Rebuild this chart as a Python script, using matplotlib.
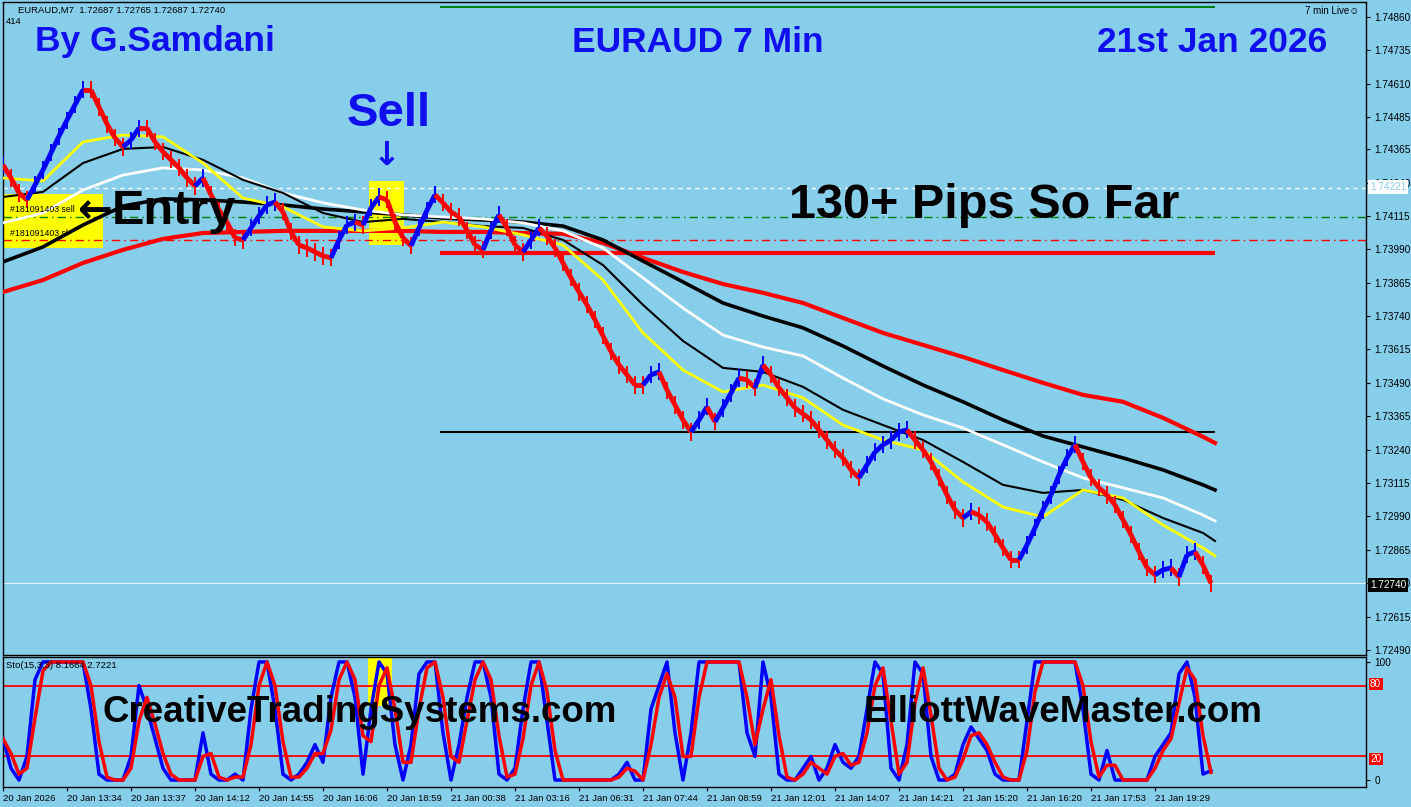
import numpy as np
import pandas as pd
import matplotlib
matplotlib.use("Agg")
import matplotlib.pyplot as plt
from matplotlib.collections import LineCollection
from matplotlib.patches import Rectangle

plt.rcParams['font.family'] = ['Liberation Sans', 'DejaVu Sans']

# precios de cierre, un valor cada 2 barras
cierres = [1.74306, 1.74257, 1.74201, 1.74175, 1.74231, 1.74287, 1.74351, 1.74414, 1.74474, 1.74531,
           1.74587, 1.74587, 1.74523, 1.74459, 1.74407, 1.74373, 1.74399, 1.74444, 1.74444, 1.74392,
           1.74355, 1.74325, 1.74295, 1.74257, 1.74227, 1.74257, 1.74194, 1.74137, 1.74092, 1.74033,
           1.74025, 1.74070, 1.74115, 1.74156, 1.74167, 1.74130, 1.74055, 1.74006, 1.73995, 1.73980,
           1.73965, 1.73958, 1.74025, 1.74081, 1.74092, 1.74081, 1.74145, 1.74186, 1.74175, 1.74092,
           1.74033, 1.74003, 1.74070, 1.74137, 1.74194, 1.74164, 1.74130, 1.74111, 1.74062, 1.74006,
           1.73988, 1.74062, 1.74119, 1.74070, 1.74006, 1.73980, 1.74025, 1.74070, 1.74040, 1.73995,
           1.73939, 1.73883, 1.73830, 1.73782, 1.73726, 1.73666, 1.73606, 1.73557, 1.73520, 1.73482,
           1.73482, 1.73520, 1.73531, 1.73463, 1.73407, 1.73351, 1.73306, 1.73351, 1.73400, 1.73344,
           1.73396, 1.73452, 1.73508, 1.73501, 1.73471, 1.73557, 1.73520, 1.73471, 1.73434, 1.73396,
           1.73374, 1.73351, 1.73314, 1.73276, 1.73239, 1.73209, 1.73164, 1.73134, 1.73183, 1.73231,
           1.73258, 1.73276, 1.73306, 1.73314, 1.73276, 1.73239, 1.73194, 1.73134, 1.73070, 1.73014,
           1.72984, 1.73007, 1.72995, 1.72969, 1.72921, 1.72872, 1.72827, 1.72827, 1.72883, 1.72947,
           1.73014, 1.73070, 1.73145, 1.73209, 1.73258, 1.73194, 1.73134, 1.73097, 1.73070, 1.73033,
           1.72977, 1.72921, 1.72857, 1.72797, 1.72771, 1.72790, 1.72797, 1.72763, 1.72846, 1.72857,
           1.72808, 1.72740]

# medias moviles, un valor cada 10 barras (la ultima en la barra 303)
barras_ma = list(range(0, 301, 10)) + [303]
ma_amarilla = [1.74257, 1.74246, 1.74392, 1.74418, 1.74411, 1.74313, 1.74182, 1.74149, 1.74074, 1.74059,
               1.74070, 1.74092, 1.74074, 1.74044, 1.74006, 1.73875, 1.73677, 1.73538, 1.73456, 1.73482,
               1.73434, 1.73332, 1.73276, 1.73239, 1.73119, 1.73025, 1.72988, 1.73089, 1.73059, 1.72958,
               1.72872, 1.72842]
ma_negra_fina = [1.74186, 1.74205, 1.74313, 1.74366, 1.74373, 1.74325, 1.74250, 1.74201, 1.74126, 1.74092,
                 1.74104, 1.74092, 1.74077, 1.74070, 1.74025, 1.73931, 1.73782, 1.73647, 1.73546, 1.73531,
                 1.73475, 1.73389, 1.73332, 1.73276, 1.73194, 1.73108, 1.73078, 1.73089, 1.73052, 1.72984,
                 1.72928, 1.72898]
ma_blanca = [1.74089, 1.74126, 1.74212, 1.74268, 1.74295, 1.74287, 1.74257, 1.74201, 1.74164, 1.74137,
             1.74119, 1.74111, 1.74104, 1.74089, 1.74059, 1.73995, 1.73883, 1.73770, 1.73669, 1.73624,
             1.73591, 1.73508, 1.73430, 1.73370, 1.73321, 1.73258, 1.73194, 1.73134, 1.73097, 1.73059,
             1.72995, 1.72973]
ma_negra = [1.73943, 1.73999, 1.74081, 1.74152, 1.74179, 1.74175, 1.74167, 1.74156, 1.74141, 1.74130,
            1.74119, 1.74107, 1.74100, 1.74092, 1.74077, 1.74025, 1.73946, 1.73868, 1.73789, 1.73740,
            1.73696, 1.73628, 1.73553, 1.73482, 1.73419, 1.73351, 1.73291, 1.73250, 1.73209, 1.73164,
            1.73108, 1.73089]
ma_roja = [1.73830, 1.73875, 1.73939, 1.73988, 1.74029, 1.74051, 1.74055, 1.74059, 1.74059, 1.74059,
           1.74059, 1.74055, 1.74055, 1.74051, 1.74048, 1.74014, 1.73958, 1.73905, 1.73860, 1.73827,
           1.73789, 1.73733, 1.73677, 1.73632, 1.73587, 1.73538, 1.73490, 1.73445, 1.73419, 1.73359,
           1.73288, 1.73265]

# estocastico %K, un valor cada 2 barras
esto_k = [35, 10, 0, 20, 85, 100, 100, 100, 100, 100, 100, 60, 5, 0, 0, 0, 20, 80, 60, 35,
          10, 0, 0, 0, 0, 40, 5, 0, 0, 5, 0, 60, 100, 100, 60, 5, 0, 5, 15, 30,
          15, 70, 100, 100, 70, 5, 60, 100, 90, 30, 0, 30, 90, 100, 100, 40, 0, 30, 70, 100,
          100, 70, 5, 0, 10, 60, 100, 100, 50, 0, 0, 0, 0, 0, 0, 0, 0, 5, 15, 0,
          0, 60, 80, 100, 40, 0, 40, 100, 100, 100, 100, 100, 100, 40, 20, 100, 70, 5, 0, 0,
          10, 20, 0, 10, 30, 15, 10, 20, 60, 100, 90, 10, 0, 30, 100, 90, 20, 0, 0, 5,
          30, 45, 35, 25, 5, 0, 0, 0, 50, 100, 100, 100, 100, 100, 100, 60, 5, 0, 25, 0,
          0, 0, 0, 0, 20, 30, 40, 90, 100, 70, 5, 8]

# etiquetas del eje de tiempo (una cada 16 barras)
etiquetas_x = ["20 Jan 2026", "20 Jan 13:34", "20 Jan 13:37", "20 Jan 14:12", "20 Jan 14:55",
               "20 Jan 16:06", "20 Jan 18:59", "21 Jan 00:38", "21 Jan 03:16", "21 Jan 06:31",
               "21 Jan 07:44", "21 Jan 08:59", "21 Jan 12:01", "21 Jan 14:07", "21 Jan 14:21",
               "21 Jan 15:20", "21 Jan 16:20", "21 Jan 17:53", "21 Jan 19:29"]
ticks_precio = [1.74860, 1.74735, 1.74610, 1.74485, 1.74365, 1.74240, 1.74115, 1.73990, 1.73865,
                1.73740, 1.73615, 1.73490, 1.73365, 1.73240, 1.73115, 1.72990, 1.72865, 1.72740,
                1.72615, 1.72490]

# niveles horizontales
nivel_ask = 1.74221
nivel_entrada = 1.74112
nivel_sl = 1.74025
nivel_rojo = 1.73976
nivel_negro = 1.73306
nivel_verde = 1.74897
nivel_bid = 1.72740

FONDO = "#87ceeb"
W, H = 1411, 807


def fx(x, y):
    return x / W, 1 - y / H


fig = plt.figure(figsize=(W / 100, H / 100), dpi=100, facecolor=FONDO)
ax = fig.add_axes([3 / W, 1 - 655 / H, 1363 / W, 653 / H], facecolor=FONDO)
ax2 = fig.add_axes([3 / W, 1 - 787 / H, 1363 / W, 130 / H], facecolor=FONDO)

x_fin = 340.75
ax.set_xlim(0, x_fin)
ax.set_ylim(1.72471, 1.74916)

# rectangulos amarillos
ax.add_patch(Rectangle((0, 1.73995), 25, 0.00202, color="yellow", zorder=1, lw=0))
ax.add_patch(Rectangle((91.5, 1.74006), 8.75, 0.00240, color="yellow", zorder=1, lw=0))

# lineas horizontales
ax.axhline(nivel_ask, color="white", lw=1, ls=(0, (3, 3)), zorder=2)
ax.axhline(nivel_entrada, color="green", lw=1, ls=(0, (6, 3, 1, 3)), zorder=2)
ax.axhline(nivel_sl, color="red", lw=1, ls=(0, (6, 3, 1, 3)), zorder=2)
ax.axhline(nivel_bid, color="#dff3ff", lw=0.8, zorder=2)
ax.hlines(nivel_rojo, 109.25, 303, color="red", lw=3, zorder=3)
ax.hlines(nivel_negro, 109.25, 303, color="black", lw=1.5, zorder=3)
ax.hlines(nivel_verde, 109.25, 303, color="green", lw=1.5, zorder=3)

# medias moviles
ax.plot(barras_ma, ma_roja, color="red", lw=3, zorder=4)
ax.plot(barras_ma, ma_negra, color="black", lw=2.6, zorder=4)
ax.plot(barras_ma, ma_blanca, color="white", lw=2, zorder=4)
ax.plot(barras_ma, ma_negra_fina, color="black", lw=1.5, zorder=4)
ax.plot(barras_ma, ma_amarilla, color="yellow", lw=2, zorder=4)

# precio: barras verticales y linea de cierre coloreada
c = np.array(cierres)
xb = np.arange(len(c)) * 2
colores = ["blue"] + ["blue" if c[i] > c[i - 1] else "red" for i in range(1, len(c))]
ax.vlines(xb, c - 0.00032, c + 0.00032, colors=colores, lw=1.4, zorder=5)
segs = [[(xb[i - 1], c[i - 1]), (xb[i], c[i])] for i in range(1, len(c))]
ax.add_collection(LineCollection(segs, colors=colores[1:], linewidths=3.5, zorder=6))

ax.set_xticks([])
ax.yaxis.tick_right()
ax.set_yticks(ticks_precio)
ax.set_yticklabels([f"{t:.5f}" for t in ticks_precio])
ax.tick_params(axis="y", direction="out", length=3, labelsize=7.2, pad=3, colors="black")
for s in ax.spines.values():
    s.set_color("black")
    s.set_linewidth(1)

# etiquetas de precio especiales
fig.text(*fx(1370, 187), "1.74221", fontsize=7.2, color=FONDO, va="center", zorder=30,
         bbox=dict(facecolor="white", edgecolor="none", pad=1.5))
fig.text(*fx(1370, 585), "1.72740", fontsize=7.2, color="white", va="center", zorder=30,
         bbox=dict(facecolor="black", edgecolor="none", pad=1.5))

# estocastico
k = pd.Series(esto_k, dtype=float)
d = k.rolling(2, min_periods=1).mean()
xs = np.arange(len(k)) * 2
ax2.set_xlim(0, x_fin)
ax2.set_ylim(-5.9, 104.2)
ax2.add_patch(Rectangle((91.25, 63), 6, 45, color="yellow", zorder=1, lw=0))
ax2.axhline(80, color="red", lw=1.3, zorder=2)
ax2.axhline(20, color="red", lw=1.3, zorder=2)
ax2.plot(xs, k, color="blue", lw=2.5, zorder=3)
ax2.plot(xs, d, color="red", lw=2.5, zorder=4)
ax2.yaxis.tick_right()
ax2.set_yticks([0, 100])
ax2.tick_params(axis="y", direction="out", length=3, labelsize=7.2, pad=3)
ax2.set_xticks(np.arange(len(etiquetas_x)) * 16)
ax2.set_xticklabels(etiquetas_x, ha="left")
ax2.tick_params(axis="x", direction="out", length=3, labelsize=6.8, pad=2)
for s in ax2.spines.values():
    s.set_color("black")
    s.set_linewidth(1)
for yy, txt in [(684, "80"), (759, "20")]:
    fig.text(*fx(1370, yy), txt, fontsize=7.2, color="white", va="center", zorder=30,
             bbox=dict(facecolor="red", edgecolor="none", pad=1))

# textos
fig.text(*fx(18, 10), "EURAUD,M7  1.72687 1.72765 1.72687 1.72740", fontsize=6.8, va="center")
fig.text(*fx(6, 22), "414", fontsize=6.8, va="center")
fig.text(*fx(1305, 11), "7 min Live\u263a", fontsize=7, va="center")
fig.text(*fx(6, 665), "Sto(15,3,3) 8.1664 2.7221", fontsize=6.8, va="center")
fig.text(*fx(10, 210), "#181091403 sell", fontsize=6.3, va="center", zorder=10)
fig.text(*fx(10, 234), "#181091403 sl", fontsize=6.3, va="center", zorder=10)

azul = "#1010ee"
grande = dict(family="Liberation Sans", weight="bold", va="center", zorder=20)
fig.text(*fx(155, 42), "By G.Samdani", fontsize=25.5, color=azul, ha="center", **grande)
fig.text(*fx(698, 42), "EURAUD 7 Min", fontsize=25.5, color=azul, ha="center", **grande)
fig.text(*fx(1212, 42), "21st Jan 2026", fontsize=25.5, color=azul, ha="center", **grande)
fig.text(*fx(389, 114), "Sell", fontsize=34, color=azul, ha="center", **grande)
fig.text(*fx(387, 155), "\u2193", fontsize=24, color=azul, ha="center",
         family="DejaVu Sans", weight="bold", va="center", zorder=20)
fig.text(*fx(78, 211), "\u2190", fontsize=30, color="black", ha="left",
         family="DejaVu Sans", weight="bold", va="center", zorder=20)
fig.text(*fx(112, 211), "Entry", fontsize=35, color="black", ha="left", **grande)
fig.text(*fx(984, 205), "130+ Pips So Far", fontsize=35, color="black", ha="center", **grande)
fig.text(*fx(360, 713), "CreativeTradingSystems.com", fontsize=26.5, color="black", ha="center", **grande)
fig.text(*fx(1063, 713), "ElliottWaveMaster.com", fontsize=26.5, color="black", ha="center", **grande)

fig.savefig("out.png", dpi=100, facecolor=FONDO)
